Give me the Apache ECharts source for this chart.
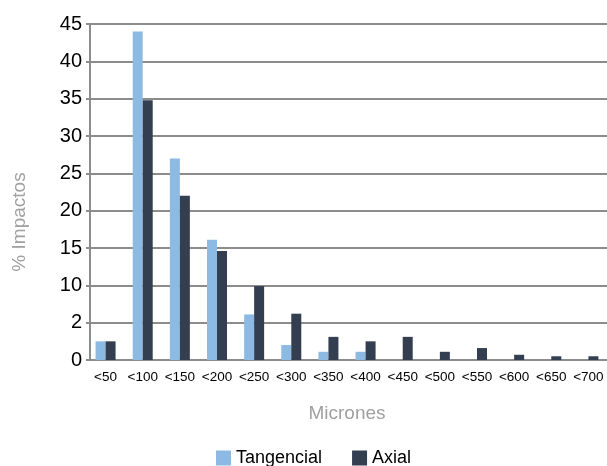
<!DOCTYPE html>
<html><head><meta charset="utf-8">
<script src="https://cdn.jsdelivr.net/npm/echarts@6/dist/echarts.min.js"></script>
<style>html,body{margin:0;padding:0;background:#fff}#c{width:607px;height:466px}</style>
</head><body><div id="c"></div>
<script>
const categories = ['<50','<100','<150','<200','<250','<300','<350','<400','<450','<500','<550','<600','<650','<700'];
const tangencial = [2.5, 44, 27, 16.1, 6.1, 2.0, 1.1, 1.1, 0, 0, 0, 0, 0, 0];
const axial = [2.5, 34.8, 22, 14.6, 9.9, 6.2, 3.1, 2.5, 3.1, 1.1, 1.6, 0.7, 0.5, 0.5];
const yTickLabels = ['0','2','10','15','20','25','30','35','40','45'];
const F = '"Liberation Sans Narrow","Arial Narrow","Liberation Sans",sans-serif';
const chart = echarts.init(document.getElementById('c'));
chart.setOption({
  animation:false,
  grid:{left:87,right:0,top:24,bottom:106},
  legend:{top:444,left:211,itemWidth:15,itemHeight:15,itemGap:30,icon:'rect',
    textStyle:{fontFamily:F,fontSize:18,color:'#000'},data:['Tangencial','Axial']},
  graphic:[{type:'text',x:20,y:222,rotation:Math.PI/2,
    style:{text:'% Impactos',fontFamily:F,fontSize:19,fill:'#a0a0a0',align:'center',verticalAlign:'middle'}}],
  xAxis:{type:'category',data:categories,
    axisLine:{lineStyle:{color:'#8c8c8c',width:2}},axisTick:{show:false},
    axisLabel:{fontFamily:F,fontSize:13.5,color:'#000',margin:10,interval:0},
    name:'Micrones',nameLocation:'middle',nameGap:44,
    nameTextStyle:{fontFamily:F,fontSize:19,color:'#a0a0a0'}},
  yAxis:{type:'value',min:0,max:45,interval:5,offset:-3,
    axisLine:{show:true,lineStyle:{color:'#8c8c8c',width:2}},
    axisTick:{show:true,length:4,lineStyle:{color:'#8c8c8c',width:2}},
    splitLine:{lineStyle:{color:'#8c8c8c',width:2}},
    axisLabel:{fontFamily:F,fontSize:20,color:'#000',margin:8,
      formatter:function(v){return yTickLabels[Math.round(v/5)];}}},
  series:[
    {name:'Tangencial',type:'bar',data:tangencial,barWidth:10,barGap:'0%',itemStyle:{color:'#8DBAE3'}},
    {name:'Axial',type:'bar',data:axial,barWidth:10,itemStyle:{color:'#333F50'}}
  ]
});
</script></body></html>
